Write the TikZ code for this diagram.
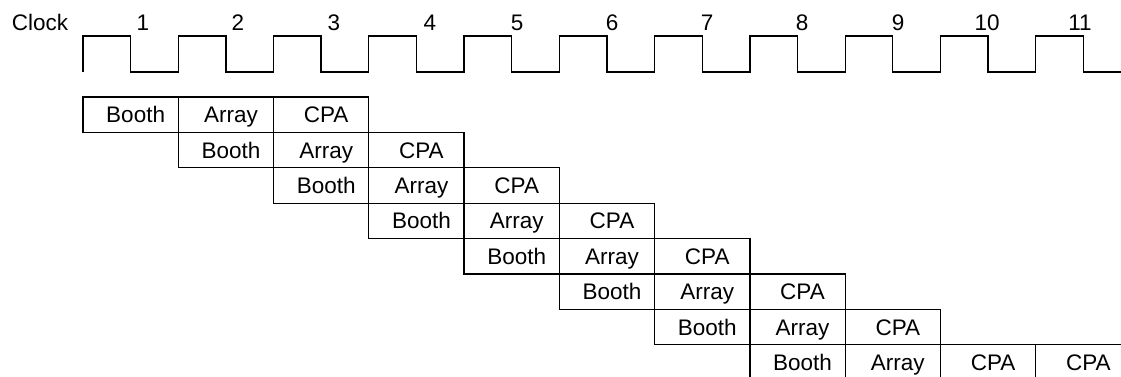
\documentclass[tikz,border=0pt]{standalone}
\usepackage{fontspec}
\setmainfont{Liberation Sans}
\begin{document}
\begin{tikzpicture}[x=1pt,y=-1pt,
  txt/.style={font=\fontsize{22.5}{26}\selectfont},
  wave/.style={line width=1.3pt, line join=miter},
  tick/.style={txt, anchor=base, inner sep=0pt},
  cell/.style={txt, draw, line width=1.3pt, minimum width=95.27pt,
    minimum height=35.4pt, inner sep=0pt, text height=16pt, text depth=0pt,
    execute at begin node=\hspace*{10pt}}]
\useasboundingbox (0,0) rectangle (1121,376);

% clock waveform: one period = one pipeline stage
\draw[wave] (83,72) foreach \k in {0,...,10} {
  -- ++(0,-36) -- ++(47.6,0) -- ++(0,36) -- ++(47.67,0) };

% clock label and cycle numbers
\node[tick] (clk) at (40,30) {Clock};
\foreach \n/\x in {1/143,2/238,3/334,4/430,5/517,6/612,7/707,8/802,9/898,10/987,11/1080}
  \node[tick] (t\n) at (\x,30) {\n};

% pipeline stages, one row per multiplication
\foreach \r in {1,...,8} {
  \pgfmathsetmacro\yc{97+(\r-0.5)*35.4}
  \node[cell] (b\r) at ({83+(\r-0.5)*95.27},\yc) {Booth};
  \node[cell] (a\r) at ({83+(\r+0.5)*95.27},\yc) {Array};
  \node[cell] (c\r) at ({83+(\r+1.5)*95.27},\yc) {CPA};
}
\node[cell] (c9) at ({83+10.5*95.27},{97+7.5*35.4}) {CPA};
\end{tikzpicture}
\end{document}
